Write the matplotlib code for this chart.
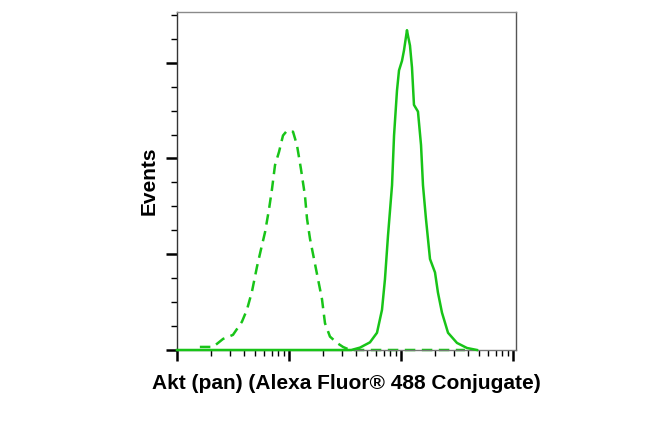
import matplotlib
matplotlib.use("Agg")
import matplotlib.pyplot as plt
from matplotlib import font_manager
from matplotlib.ticker import LogLocator, MultipleLocator, NullFormatter

# Data (fluorescence intensity vs event count)
control_x = [160, 210, 258, 316, 380, 421, 467, 518, 562, 611, 663, 705, 750, 815, 884,
             959, 1020, 1086, 1178, 1279, 1389, 1449, 1541, 1673, 1816, 1971, 2096, 2322,
             2683, 3036, 3508, 37250]
control_y = [3.2, 3.2, 11.6, 15.8, 29.5, 42, 61, 87, 105, 123, 147, 168, 193, 207, 224,
             229, 228, 228, 214, 189, 161, 137, 116, 95, 74, 53, 28, 14, 7.4, 3.2, 0, 0]

akt_x = [100, 3600, 4305, 5284, 6106, 6768, 7194, 7652, 8318, 8670, 9211, 9602, 10210,
         10640, 11310, 11560, 12030, 12540, 13060, 14180, 15100, 15720, 16710, 18160,
         20130, 21380, 23230, 26300, 31620, 38820, 47730]
akt_y = [0, 0, 2.5, 8, 18, 42, 74, 119, 172, 224, 271, 292, 302, 313, 334, 328, 318,
         295, 256, 249, 214, 172, 137, 95, 81, 60, 39, 18, 7.4, 2.1, 0]

xlabel = "Akt (pan) (Alexa Fluor\u00ae 488 Conjugate)"
ylabel = "Events"

avail = {f.name for f in font_manager.fontManager.ttflist}
family = "Liberation Sans Narrow" if "Liberation Sans Narrow" in avail else "Liberation Sans"

green = "#18c418"

fig = plt.figure(figsize=(6.5, 4.38), dpi=100)
ax = fig.add_axes([177 / 650, 88 / 438, 339 / 650, 338 / 438])

ax.plot(control_x, control_y, color=green, lw=1.8, dashes=(4.2, 2.6), clip_on=False)
ax.plot(akt_x, akt_y, color=green, lw=1.8, clip_on=False, zorder=3)

ax.set_xscale("log")
ax.set_xlim(100, 10 ** 5.027)
ax.set_ylim(0, 353)

ax.xaxis.set_major_locator(LogLocator(base=10, numticks=10))
ax.xaxis.set_minor_locator(LogLocator(base=10, subs=range(2, 10), numticks=20))
ax.xaxis.set_major_formatter(NullFormatter())
ax.xaxis.set_minor_formatter(NullFormatter())
ax.yaxis.set_major_locator(MultipleLocator(100))
ax.yaxis.set_minor_locator(MultipleLocator(25))
ax.yaxis.set_major_formatter(NullFormatter())

ax.tick_params(which="major", direction="out", length=8, width=1.8, color="black")
ax.tick_params(which="minor", direction="out", length=4.5, width=1.0, color="black")

for side in ("top", "right"):
    ax.spines[side].set_color("#8a8a8a")
    ax.spines[side].set_linewidth(1.0)
ax.spines["right"].set_color("#555555")
ax.spines["left"].set_color("#333333")
ax.spines["left"].set_linewidth(1.0)
ax.spines["bottom"].set_color("#777777")
ax.spines["bottom"].set_linewidth(1.0)

ax.set_xlabel(xlabel, fontsize=15, fontweight="bold", family=family, labelpad=5.5)
ax.set_ylabel(ylabel, fontsize=15, fontweight="bold", family=family, labelpad=1.5)

fig.savefig("out.png", dpi=100, facecolor="white")
